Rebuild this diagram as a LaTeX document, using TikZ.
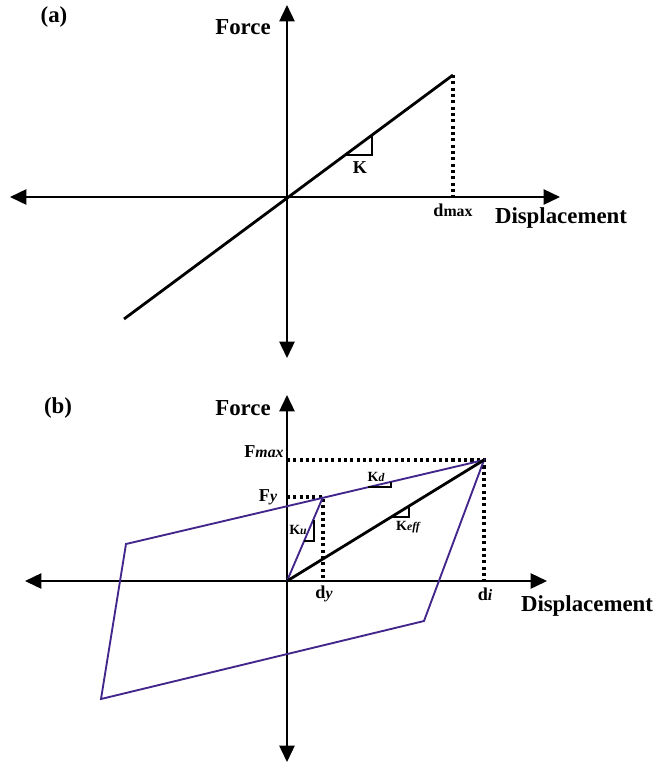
\documentclass[tikz,border=0pt]{standalone}
\usepackage{fontspec}
\setmainfont{Liberation Serif}
\usepackage{xcolor}
\usetikzlibrary{arrows.meta,calc}
\definecolor{loopcol}{RGB}{66,38,140}
\tikzset{
  axis/.style = {line width=1.7pt, {Triangle[length=14pt,width=13pt]}-{Triangle[length=14pt,width=13pt]}},
  guide/.style = {line width=2.8pt, line cap=butt, dash pattern=on 2.6pt off 2.8pt},
  curve/.style = {line width=2.4pt},
  hyst/.style = {line width=1.6pt, loopcol},
  tri/.style = {line width=1.1pt},
  big/.style = {font=\fontsize{19.5}{22}\selectfont\bfseries},
  lab/.style = {font=\fontsize{15.5}{17}\selectfont\bfseries},
  small/.style = {font=\fontsize{12}{14}\selectfont\bfseries}
}

\begin{document}
\begin{tikzpicture}[x=0.03cm,y=-0.03cm]
\useasboundingbox (0,0) rectangle (664,771);

% panel (a)
\coordinate (oa) at (287,197);
\coordinate (atop) at (287,5);
\coordinate (abot) at (287,358);
\coordinate (aleft) at (10,197);
\coordinate (aright) at (560,197);
\coordinate (pmax) at (453,75);
\coordinate (pmin) at (124,319);
\coordinate (dmax) at (453,196);

\draw[axis] (abot) -- (atop);
\draw[axis] (aleft) -- (aright);
\draw[curve] (pmin) -- (pmax);
\draw[guide] (pmax) -- (dmax);
\draw[tri] (372,134) -- (372,155) -- (344,155);

\node[big] (labela) at (54,17) {(a)};
\node[big] (forcea) at (243,27) {Force};
\node[big] (dispa) at (561,218) {Displacement};
\node[lab] (dmaxlab) at (453,210) {d\fontsize{13.5}{15}\selectfont max};
\node[lab] (klab) at (360,168) {K};

% panel (b)
\coordinate (ob) at (287,581);
\coordinate (btop) at (287,395);
\coordinate (bbot) at (287,762);
\coordinate (bleft) at (25,581);
\coordinate (bright) at (547,581);
\coordinate (fy) at (323,497);
\coordinate (fi) at (484,460);
\coordinate (p3) at (424,621);
\coordinate (p4) at (101,699);
\coordinate (p5) at (126,544);

\draw[axis] (bbot) -- (btop);
\draw[axis] (bleft) -- (bright);
\draw[guide] (287,460) -- (fi) -- (484,580);
\draw[guide] (287,497) -- (fy) -- (323,580);
\draw[hyst] (p5) -- (fi) -- (p3) -- (p4) -- cycle;
\draw[hyst] (ob) -- (fy);
\draw[curve] (ob) -- (fi);

\draw[tri] (368,487) -- (391,487) -- (391,482);
\draw[tri] (314,520) -- (314,541) -- (304,541);
\draw[tri] (409,506) -- (409,517) -- (392,517);

\node[big] (labelb) at (58,408) {(b)};
\node[big] (forceb) at (243,408) {Force};
\node[big] (dispb) at (587,606) {Displacement};
\node[lab] (fmaxlab) at (264,452) {F\fontsize{13.5}{15}\selectfont\itshape max};
\node[lab] (fylab) at (268,497) {F\fontsize{13.5}{15}\selectfont\itshape y};
\node[lab] (dylab) at (324,594) {d\fontsize{13.5}{15}\selectfont\itshape y};
\node[lab] (dilab) at (485,594) {d\fontsize{13.5}{15}\selectfont\itshape i};
\node[small] (kdlab) at (376,477) {K\fontsize{10}{12}\selectfont\itshape d};
\node[small] (kulab) at (298,530) {K\fontsize{10}{12}\selectfont\itshape u};
\node[small] (kefflab) at (408,527) {K\fontsize{10}{12}\selectfont\itshape eff};
\end{tikzpicture}
\end{document}
